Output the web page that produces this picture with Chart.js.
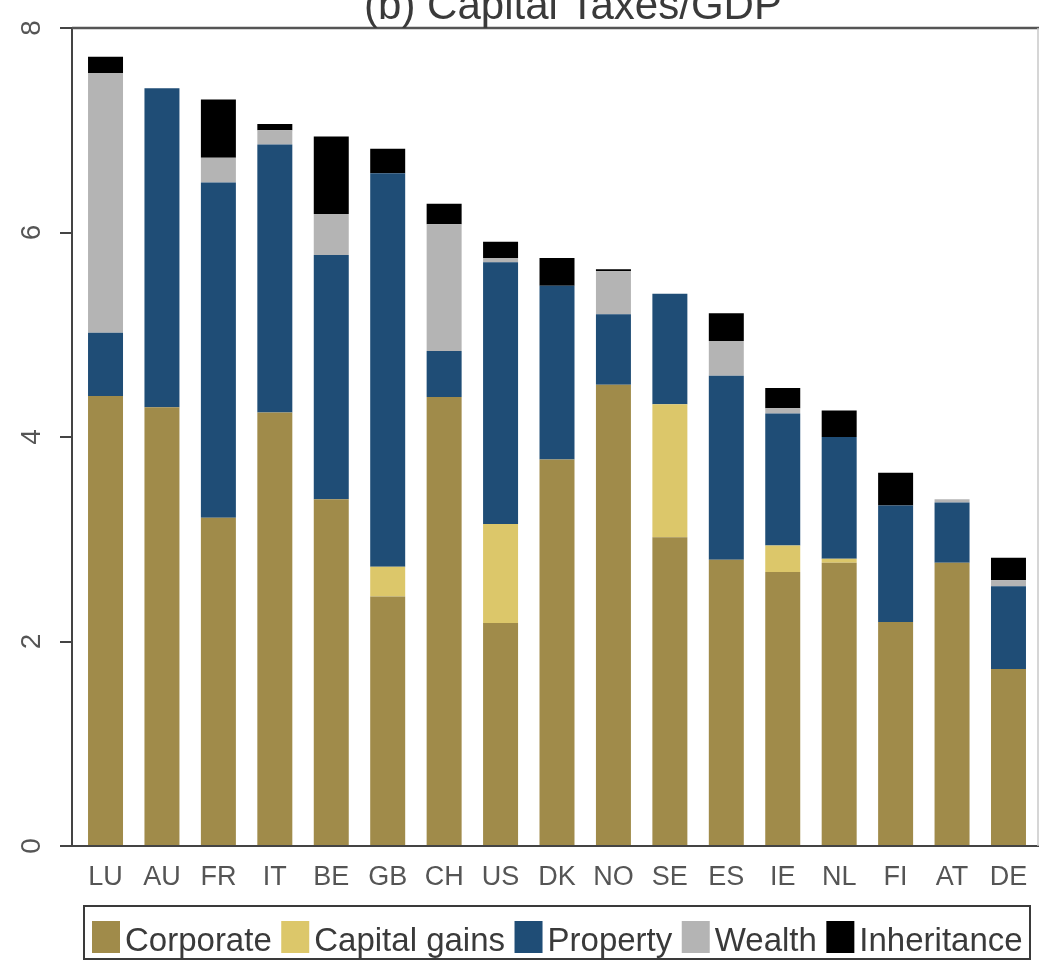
<!DOCTYPE html>
<html>
<head>
<meta charset="utf-8">
<script src="https://cdn.jsdelivr.net/npm/chart.js@4.4.1/dist/chart.umd.min.js"></script>
<style>
  html, body { margin: 0; padding: 0; background: #ffffff; }
  canvas { display: block; }
</style>
</head>
<body>
<canvas id="chart" width="1039" height="961"></canvas>
<script>
// Capital taxes as a share of GDP, by country and tax type
const countries    = ['LU', 'AU', 'FR', 'IT', 'BE', 'GB', 'CH', 'US', 'DK', 'NO', 'SE', 'ES', 'IE', 'NL', 'FI', 'AT', 'DE'];
const corporate    = [4.40, 4.29, 3.21, 4.24, 3.39, 2.44, 4.39, 2.18, 3.78, 4.51, 3.02, 2.80, 2.68, 2.77, 2.19, 2.77, 1.73];
const capitalGains = [0, 0, 0, 0, 0, 0.29, 0, 0.97, 0, 0, 1.30, 0, 0.26, 0.04, 0, 0, 0];
const property     = [0.62, 3.12, 3.28, 2.62, 2.39, 3.85, 0.45, 2.56, 1.70, 0.69, 1.08, 1.80, 1.29, 1.19, 1.14, 0.59, 0.81];
const wealth       = [2.54, 0, 0.24, 0.14, 0.40, 0, 1.24, 0.04, 0, 0.42, 0, 0.34, 0.05, 0, 0, 0.03, 0.06];
const inheritance  = [0.16, 0, 0.57, 0.06, 0.76, 0.24, 0.20, 0.16, 0.27, 0.02, 0, 0.27, 0.20, 0.26, 0.32, 0, 0.22];
const seriesNames  = ['Corporate', 'Capital gains', 'Property', 'Wealth', 'Inheritance'];
const yTickValues  = [0, 2, 4, 6, 8];
const chartTitle   = '(b) Capital Taxes/GDP';

const FONT = '"Liberation Sans", Arial, Helvetica, sans-serif';
const seriesColors = ['#a08b4a', '#dcc76a', '#1f4d76', '#b4b4b4', '#000000'];
const seriesValues = [corporate, capitalGains, property, wealth, inheritance];

const datasets = seriesNames.map((name, s) => ({
  label: name,
  data: seriesValues[s].map((v, i) => ({ x: i, y: v })),
  backgroundColor: seriesColors[s],
  borderWidth: 0,
  categoryPercentage: 1.0,
  barPercentage: 0.62
}));

// Title, plot frame and boxed legend
const decorations = {
  id: 'decorations',
  afterDraw(chart) {
    const ctx = chart.ctx;
    const area = chart.chartArea;
    ctx.save();

    // frame: top and right edges of the plot region
    ctx.strokeStyle = '#555555';
    ctx.lineWidth = 2.5;
    ctx.beginPath();
    ctx.moveTo(area.left, area.top);
    ctx.lineTo(chart.width, area.top);
    ctx.stroke();
    ctx.strokeStyle = '#c8c8c8';
    ctx.lineWidth = 1.5;
    ctx.beginPath();
    ctx.moveTo(area.right, area.top);
    ctx.lineTo(area.right, area.bottom);
    ctx.stroke();

    // title
    ctx.fillStyle = '#3a3a3a';
    ctx.font = '42px ' + FONT;
    ctx.textAlign = 'center';
    ctx.textBaseline = 'alphabetic';
    ctx.fillText(chartTitle, 573, 19);

    // legend
    const boxL = 84, boxT = 906, boxR = 1030, boxB = 959;
    ctx.strokeStyle = '#3a3a3a';
    ctx.lineWidth = 2;
    ctx.strokeRect(boxL, boxT, boxR - boxL, boxB - boxT);
    ctx.font = '33px ' + FONT;
    ctx.textAlign = 'left';
    let x = 92;
    chart.data.datasets.forEach((ds) => {
      ctx.fillStyle = ds.backgroundColor;
      ctx.fillRect(x, 921, 28, 32);
      x += 28 + 5;
      ctx.fillStyle = '#3a3a3a';
      ctx.fillText(ds.label, x, 951);
      x += ctx.measureText(ds.label).width + 9.5;
    });
    ctx.restore();
  }
};

const chart = new Chart(document.getElementById('chart'), {
  type: 'bar',
  data: { datasets },
  options: {
    responsive: false,
    devicePixelRatio: 1,
    animation: false,
    layout: { padding: { top: 28, right: 1, bottom: 0, left: 0 } },
    plugins: {
      legend: { display: false },
      title: { display: false },
      tooltip: { enabled: false }
    },
    scales: {
      x: {
        type: 'linear',
        stacked: true,
        offset: false,
        min: -0.594,
        max: 16.523,
        afterBuildTicks: (scale) => { scale.ticks = countries.map((c, i) => ({ value: i })); },
        afterFit: (scale) => {
          scale.height = 115;
          scale.paddingLeft = 0;
          scale.paddingRight = 0;
        },
        grid: { display: false, drawTicks: false },
        border: { display: true, color: '#444444', width: 2 },
        ticks: {
          autoSkip: false,
          maxRotation: 0,
          minRotation: 0,
          padding: 15,
          color: '#555555',
          font: { family: FONT, size: 27 },
          callback: (v) => countries[v]
        }
      },
      y: {
        stacked: true,
        min: 0,
        max: 8,
        afterBuildTicks: (scale) => { scale.ticks = yTickValues.map((v) => ({ value: v })); },
        afterFit: (scale) => {
          scale.width = 72;
          scale.paddingTop = 0;
          scale.paddingBottom = 0;
        },
        grid: {
          display: true,
          drawOnChartArea: false,
          drawTicks: true,
          tickLength: 12,
          color: '#444444',
          lineWidth: 2
        },
        border: { display: true, color: '#444444', width: 2 },
        ticks: {
          minRotation: 90,
          maxRotation: 90,
          crossAlign: 'center',
          padding: 20,
          color: '#555555',
          font: { family: FONT, size: 28 },
          callback: (v) => String(v)
        }
      }
    }
  },
  plugins: [decorations]
});
</script>
</body>
</html>
